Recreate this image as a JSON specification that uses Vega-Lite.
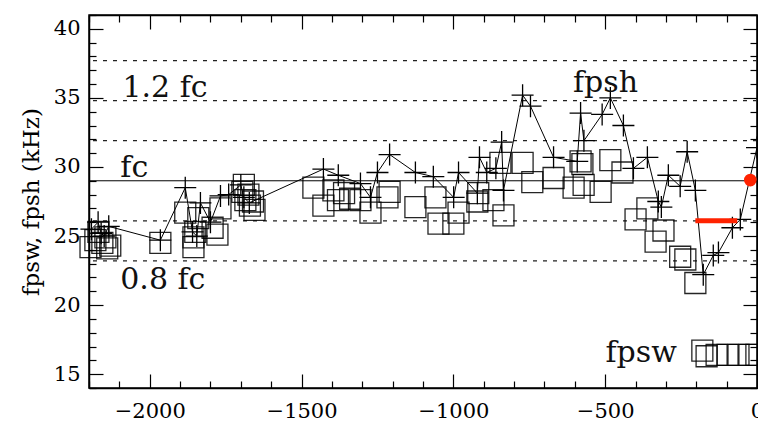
{
  "$schema": "https://vega.github.io/schema/vega-lite/v6.json",
  "autosize": {"type": "none"},
  "padding": {"left": 89, "top": 15, "right": 1, "bottom": 37},
  "width": 668,
  "height": 373,
  "background": "white",
  "view": {"stroke": "black", "strokeWidth": 1.5},
  "config": {
    "font": "DejaVu Serif",
    "axis": {"grid": false, "domainColor": "black", "tickColor": "black", "labelColor": "black", "titleColor": "black", "labelFont": "DejaVu Serif", "titleFont": "DejaVu Serif", "labelFontSize": 21, "titleFontSize": 23, "titleFontWeight": "normal", "tickWidth": 1.2, "domainWidth": 1.5, "labelOverlap": false, "labelFlush": false}
  },
  "datasets": {
    "dotted": [{"y": 23.2}, {"y": 26.1}, {"y": 31.9}, {"y": 34.8}, {"y": 37.7}],
    "solid": [{"y": 29.0}],
    "fpsw": [
      {"x": -2195, "y": 24.2}, {"x": -2179, "y": 24.7}, {"x": -2169, "y": 25.3}, {"x": -2156, "y": 24.5}, {"x": -2146, "y": 24.9}, {"x": -2140, "y": 24.1}, {"x": -2130, "y": 24.3},
      {"x": -1965, "y": 24.5},
      {"x": -1883, "y": 26.7}, {"x": -1856, "y": 24.9}, {"x": -1856, "y": 24.2}, {"x": -1850, "y": 25.3}, {"x": -1840, "y": 26.3},
      {"x": -1793, "y": 25.6}, {"x": -1777, "y": 25.1}, {"x": -1767, "y": 27.0},
      {"x": -1695, "y": 28.2}, {"x": -1690, "y": 28.7}, {"x": -1685, "y": 27.6}, {"x": -1675, "y": 28.0}, {"x": -1670, "y": 27.2}, {"x": -1660, "y": 27.5}, {"x": -1655, "y": 26.9},
      {"x": -1461, "y": 28.5}, {"x": -1428, "y": 27.2}, {"x": -1395, "y": 28.3}, {"x": -1380, "y": 27.6}, {"x": -1360, "y": 28.1}, {"x": -1340, "y": 27.7},
      {"x": -1306, "y": 27.6}, {"x": -1273, "y": 26.7}, {"x": -1217, "y": 27.8}, {"x": -1210, "y": 28.2},
      {"x": -1125, "y": 27.1}, {"x": -1059, "y": 27.8}, {"x": -1049, "y": 25.9}, {"x": -1000, "y": 25.9}, {"x": -983, "y": 26.7},
      {"x": -921, "y": 27.5}, {"x": -918, "y": 28.1}, {"x": -868, "y": 27.6}, {"x": -835, "y": 26.5}, {"x": -845, "y": 30.3},
      {"x": -772, "y": 30.3}, {"x": -740, "y": 28.9}, {"x": -670, "y": 29.2}, {"x": -604, "y": 28.5}, {"x": -571, "y": 28.7}, {"x": -581, "y": 30.4}, {"x": -575, "y": 30.2},
      {"x": -515, "y": 28.2}, {"x": -483, "y": 30.5}, {"x": -443, "y": 29.6},
      {"x": -361, "y": 27.0}, {"x": -400, "y": 26.2}, {"x": -308, "y": 25.4}, {"x": -334, "y": 24.6}, {"x": -253, "y": 23.5}, {"x": -236, "y": 23.3}, {"x": -203, "y": 21.6}
    ],
    "fpswkey": [
      {"x": -180, "y": 16.7}, {"x": -166, "y": 16.3}, {"x": -133, "y": 16.4}, {"x": -97, "y": 16.4}, {"x": -61, "y": 16.4}, {"x": -25, "y": 16.4}, {"x": -2, "y": 16.4}
    ],
    "fpsh": [
      {"i": 1, "x": -2192, "y": 25.5}, {"i": 2, "x": -2170, "y": 26.0}, {"i": 3, "x": -2160, "y": 25.2}, {"i": 4, "x": -2150, "y": 25.0}, {"i": 5, "x": -2135, "y": 25.7},
      {"i": 6, "x": -1965, "y": 24.7}, {"i": 7, "x": -1883, "y": 28.5}, {"i": 8, "x": -1859, "y": 25.3}, {"i": 9, "x": -1845, "y": 25.0}, {"i": 10, "x": -1833, "y": 27.4},
      {"i": 11, "x": -1800, "y": 26.0}, {"i": 12, "x": -1767, "y": 27.9}, {"i": 13, "x": -1740, "y": 28.0}, {"i": 14, "x": -1700, "y": 28.7}, {"i": 15, "x": -1690, "y": 27.8}, {"i": 16, "x": -1672, "y": 27.4},
      {"i": 17, "x": -1428, "y": 29.85}, {"i": 18, "x": -1379, "y": 29.4}, {"i": 19, "x": -1306, "y": 28.8}, {"i": 20, "x": -1273, "y": 27.8}, {"i": 21, "x": -1250, "y": 29.6}, {"i": 22, "x": -1210, "y": 30.9},
      {"i": 23, "x": -1125, "y": 29.6}, {"i": 24, "x": -1066, "y": 29.3}, {"i": 25, "x": -999, "y": 27.8}, {"i": 26, "x": -983, "y": 29.6}, {"i": 27, "x": -921, "y": 28.1}, {"i": 28, "x": -914, "y": 30.7},
      {"i": 29, "x": -890, "y": 29.6}, {"i": 30, "x": -860, "y": 29.9}, {"i": 31, "x": -841, "y": 31.8}, {"i": 32, "x": -835, "y": 28.3}, {"i": 33, "x": -772, "y": 35.2}, {"i": 34, "x": -746, "y": 34.4},
      {"i": 35, "x": -670, "y": 30.7}, {"i": 36, "x": -592, "y": 30.4}, {"i": 37, "x": -581, "y": 33.9}, {"i": 38, "x": -570, "y": 31.9}, {"i": 39, "x": -510, "y": 33.8}, {"i": 40, "x": -483, "y": 35.0},
      {"i": 41, "x": -440, "y": 33.0}, {"i": 42, "x": -407, "y": 29.9}, {"i": 43, "x": -361, "y": 30.7}, {"i": 44, "x": -325, "y": 27.5}, {"i": 45, "x": -315, "y": 27.1}, {"i": 46, "x": -292, "y": 29.4},
      {"i": 47, "x": -253, "y": 28.6}, {"i": 48, "x": -230, "y": 31.1}, {"i": 49, "x": -203, "y": 28.3}, {"i": 50, "x": -177, "y": 22.2}, {"i": 51, "x": -144, "y": 23.6}, {"i": 52, "x": -127, "y": 23.8},
      {"i": 53, "x": -81, "y": 25.6}, {"i": 54, "x": -55, "y": 26.2}, {"i": 55, "x": 0, "y": 31.4}
    ],
    "redseg": [{"x": -203, "x2": -65, "y": 26.1}],
    "reddot": [{"x": -22, "y": 29.05}],
    "labels": [
      {"x": -2090, "y": 35.1, "t": "1.2 fc"},
      {"x": -2097, "y": 29.3, "t": "fc"},
      {"x": -2097, "y": 21.15, "t": "0.8 fc"},
      {"x": -606, "y": 35.4, "t": "fpsh"},
      {"x": -499, "y": 15.9, "t": "fpsw"}
    ]
  },
  "resolve": {"axis": {"x": "independent", "y": "independent"}},
  "layer": [
    {
      "data": {"name": "dotted"},
      "mark": {"type": "rule", "strokeDash": [4, 6], "color": "#222", "strokeWidth": 1.3},
      "encoding": {"y": {"field": "y", "type": "quantitative", "scale": {"domain": [14, 41], "nice": false, "zero": false}, "axis": null}}
    },
    {
      "data": {"name": "solid"},
      "mark": {"type": "rule", "color": "black", "strokeWidth": 1},
      "encoding": {"y": {"field": "y", "type": "quantitative", "axis": null}}
    },
    {
      "data": {"name": "fpsw"},
      "mark": {"type": "point", "shape": "square", "filled": false, "size": 441, "stroke": "black", "strokeWidth": 1.3, "opacity": 0.85},
      "encoding": {
        "x": {"field": "x", "type": "quantitative", "scale": {"domain": [-2200, 0], "nice": false, "zero": false},
          "axis": {"orient": "bottom", "title": null, "format": "d",
            "values": [-2200, -2100, -2000, -1900, -1800, -1700, -1600, -1500, -1400, -1300, -1200, -1100, -1000, -900, -800, -700, -600, -500, -400, -300, -200, -100, 0],
            "labelExpr": "datum.value % 500 === 0 ? datum.label : ''",
            "tickSize": {"condition": {"test": "datum.value % 500 === 0", "value": -14}, "value": -7},
            "labelPadding": 26}},
        "y": {"field": "y", "type": "quantitative", "scale": {"domain": [14, 41], "nice": false, "zero": false},
          "axis": {"orient": "left", "title": "fpsw, fpsh (kHz)", "format": "d", "titlePadding": 10,
            "values": [14, 15, 16, 17, 18, 19, 20, 21, 22, 23, 24, 25, 26, 27, 28, 29, 30, 31, 32, 33, 34, 35, 36, 37, 38, 39, 40, 41],
            "labelExpr": "datum.value % 5 === 0 ? datum.label : ''",
            "tickSize": {"condition": {"test": "datum.value % 5 === 0", "value": -14}, "value": -7},
            "labelPadding": 23}}
      }
    },
    {
      "data": {"name": "fpswkey"},
      "mark": {"type": "point", "shape": "square", "filled": false, "size": 441, "stroke": "black", "strokeWidth": 1.3, "opacity": 0.85},
      "encoding": {
        "x": {"field": "x", "type": "quantitative", "axis": null},
        "y": {"field": "y", "type": "quantitative", "axis": null}
      }
    },
    {
      "data": {"name": "fpsh"},
      "mark": {"type": "line", "color": "black", "strokeWidth": 1},
      "encoding": {
        "x": {"field": "x", "type": "quantitative", "axis": null},
        "y": {"field": "y", "type": "quantitative", "axis": null},
        "order": {"field": "i"}
      }
    },
    {
      "data": {"name": "fpsh"},
      "mark": {"type": "point", "shape": "M-1,0L1,0M0,-1L0,1", "filled": false, "size": 484, "stroke": "black", "strokeWidth": 1.3, "opacity": 1},
      "encoding": {
        "x": {"field": "x", "type": "quantitative",
          "axis": {"orient": "top", "title": null, "labels": false,
            "values": [-2200, -2100, -2000, -1900, -1800, -1700, -1600, -1500, -1400, -1300, -1200, -1100, -1000, -900, -800, -700, -600, -500, -400, -300, -200, -100, 0],
            "tickSize": {"condition": {"test": "datum.value % 500 === 0", "value": -14}, "value": -7}}},
        "y": {"field": "y", "type": "quantitative",
          "axis": {"orient": "right", "title": null, "labels": false,
            "values": [14, 15, 16, 17, 18, 19, 20, 21, 22, 23, 24, 25, 26, 27, 28, 29, 30, 31, 32, 33, 34, 35, 36, 37, 38, 39, 40, 41],
            "tickSize": {"condition": {"test": "datum.value % 5 === 0", "value": -14}, "value": -7}}}
      }
    },
    {
      "data": {"name": "redseg"},
      "mark": {"type": "rule", "color": "#ff2200", "strokeWidth": 5},
      "encoding": {
        "x": {"field": "x", "type": "quantitative", "axis": null},
        "x2": {"field": "x2"},
        "y": {"field": "y", "type": "quantitative", "axis": null}
      }
    },
    {
      "data": {"name": "reddot"},
      "mark": {"type": "point", "shape": "circle", "filled": true, "size": 160, "color": "#ff2200", "opacity": 1},
      "encoding": {
        "x": {"field": "x", "type": "quantitative", "axis": null},
        "y": {"field": "y", "type": "quantitative", "axis": null}
      }
    },
    {
      "data": {"name": "labels"},
      "mark": {"type": "text", "align": "left", "baseline": "alphabetic", "font": "DejaVu Serif", "fontSize": 30, "color": "#111"},
      "encoding": {
        "x": {"field": "x", "type": "quantitative", "axis": null},
        "y": {"field": "y", "type": "quantitative", "axis": null},
        "text": {"field": "t"}
      }
    }
  ]
}
